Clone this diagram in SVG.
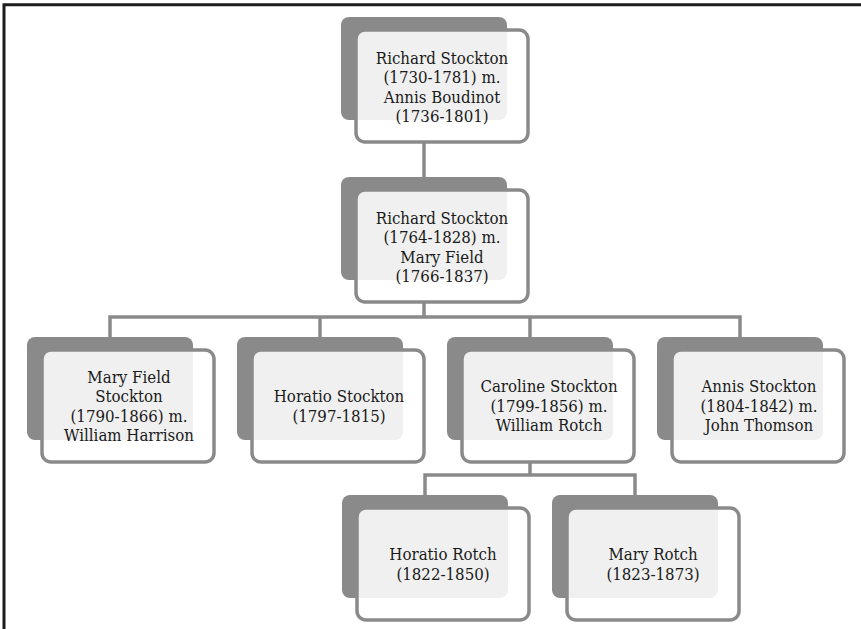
<svg xmlns="http://www.w3.org/2000/svg" width="861" height="629" viewBox="0 0 861 629">
<style>
.back{fill:#8a8a8a}
.front{fill:#ffffff;fill-opacity:0.87;stroke:#8a8a8a;stroke-width:3.5}
.conn{fill:none;stroke:#8a8a8a;stroke-width:3.5}
text{font-family:"DejaVu Serif Condensed","DejaVu Serif","Liberation Serif",serif;font-stretch:condensed;font-size:16.7px;fill:#1a1a1a;text-anchor:middle}
</style>
<rect x="0" y="0" width="861" height="629" fill="#ffffff"/>
<path d="M4 629 V4.7 H861" fill="none" stroke="#1c1c1c" stroke-width="3"/>
<g id="connectors" class="conn">
<path d="M424 142 V177"/>
<path d="M424 301 V317"/>
<path d="M110 337 V317 H740 V337"/>
<path d="M320 317 V337"/>
<path d="M530 317 V337"/>
<path d="M530 461 V475"/>
<path d="M425 495 V475 H635 V495"/>
</g>
<g id="n1">
<rect class="back" x="341" y="17" width="166" height="103" rx="8"/>
<rect class="front" x="356" y="30" width="172" height="112" rx="9"/>
<text x="442" y="63.5">Richard Stockton</text>
<text x="442" y="83">(1730-1781) m.</text>
<text x="442" y="102.5">Annis Boudinot</text>
<text x="442" y="122">(1736-1801)</text>
</g>
<g id="n2">
<rect class="back" x="341" y="177" width="166" height="103" rx="8"/>
<rect class="front" x="356" y="190" width="172" height="112" rx="9"/>
<text x="442" y="223.5">Richard Stockton</text>
<text x="442" y="243">(1764-1828) m.</text>
<text x="442" y="262.5">Mary Field</text>
<text x="442" y="282">(1766-1837)</text>
</g>
<g id="c1">
<rect class="back" x="27" y="337" width="166" height="103" rx="8"/>
<rect class="front" x="42" y="350" width="172" height="112" rx="9"/>
<text x="129" y="382.5">Mary Field</text>
<text x="129" y="402">Stockton</text>
<text x="129" y="421.5">(1790-1866) m.</text>
<text x="129" y="441">William Harrison</text>
</g>
<g id="c2">
<rect class="back" x="237" y="337" width="166" height="103" rx="8"/>
<rect class="front" x="252" y="350" width="172" height="112" rx="9"/>
<text x="339" y="402">Horatio Stockton</text>
<text x="339" y="421.5">(1797-1815)</text>
</g>
<g id="c3">
<rect class="back" x="447" y="337" width="166" height="103" rx="8"/>
<rect class="front" x="462" y="350" width="172" height="112" rx="9"/>
<text x="549" y="392.3">Caroline Stockton</text>
<text x="549" y="411.8">(1799-1856) m.</text>
<text x="549" y="431.3">William Rotch</text>
</g>
<g id="c4">
<rect class="back" x="657" y="337" width="166" height="103" rx="8"/>
<rect class="front" x="672" y="350" width="172" height="112" rx="9"/>
<text x="759" y="392.3">Annis Stockton</text>
<text x="759" y="411.8">(1804-1842) m.</text>
<text x="759" y="431.3">John Thomson</text>
</g>
<g id="g1">
<rect class="back" x="342" y="495" width="166" height="103" rx="8"/>
<rect class="front" x="357" y="508" width="172" height="112" rx="9"/>
<text x="443" y="560">Horatio Rotch</text>
<text x="443" y="579.5">(1822-1850)</text>
</g>
<g id="g2">
<rect class="back" x="552" y="495" width="166" height="103" rx="8"/>
<rect class="front" x="567" y="508" width="172" height="112" rx="9"/>
<text x="653" y="560">Mary Rotch</text>
<text x="653" y="579.5">(1823-1873)</text>
</g>
</svg>
